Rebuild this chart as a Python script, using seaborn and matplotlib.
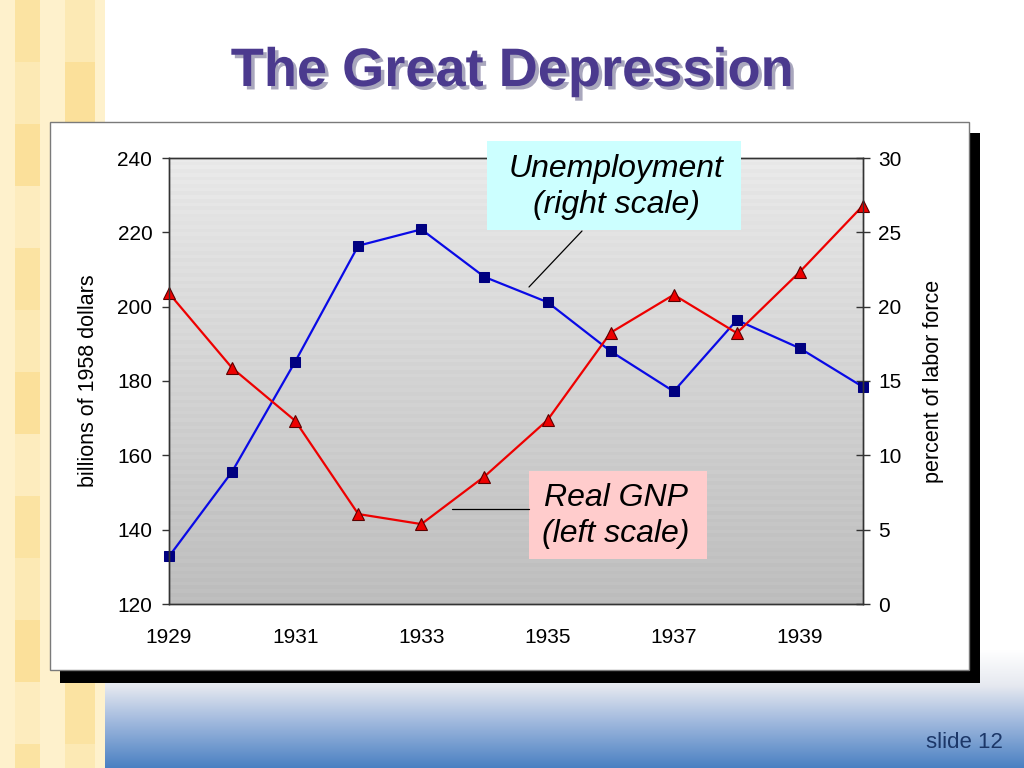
import numpy as np
import matplotlib
matplotlib.use('Agg')
import matplotlib.pyplot as plt
import matplotlib.patheffects as pe
from matplotlib.patches import Rectangle
from matplotlib.lines import Line2D
from matplotlib.colors import LinearSegmentedColormap
import seaborn as sns

# data
years = [1929, 1930, 1931, 1932, 1933, 1934, 1935, 1936, 1937, 1938, 1939, 1940]
real_gnp = [203.6, 183.5, 169.3, 144.2, 141.5, 154.3, 169.5, 193.0, 203.2, 192.9, 209.4, 227.2]
unemployment = [3.2, 8.9, 16.3, 24.1, 25.2, 22.0, 20.3, 17.0, 14.3, 19.1, 17.2, 14.6]
x_ticks = [1929, 1931, 1933, 1935, 1937, 1939]
left_ticks = [120, 140, 160, 180, 200, 220, 240]
right_ticks = [0, 5, 10, 15, 20, 25, 30]

W, H = 1024, 768


def fx(px):
    return px / W


def fy(py):
    return 1 - py / H


sns.set_style('white')
plt.rcParams['font.family'] = ['Liberation Sans', 'DejaVu Sans']
plt.rcParams['text.color'] = 'black'
plt.rcParams['axes.labelcolor'] = 'black'
plt.rcParams['xtick.color'] = 'black'
plt.rcParams['ytick.color'] = 'black'

fig = plt.figure(figsize=(10.24, 7.68), dpi=100)
fig.patch.set_facecolor('white')

# left yellow strip
fig.patches.append(Rectangle((0, 0), fx(105), 1, transform=fig.transFigure,
                             facecolor='#fef1cc', edgecolor='none', zorder=0.01))
shades = ['#fbe3a2', '#fce9b4', '#fbe09a', '#fdecbe']
for ci, (c0, c1) in enumerate([(15, 40), (65, 95)]):
    for r in range(13):
        col = shades[(r + ci) % len(shades)]
        fig.patches.append(Rectangle((fx(c0), fy((r + 1) * 62)), fx(c1 - c0), 62 / H,
                                     transform=fig.transFigure, facecolor=col,
                                     edgecolor='none', zorder=0.02))

# blue band at the bottom
band = fig.add_axes([fx(105), 0, 1 - fx(105), (768 - 650) / H], zorder=0.03)
band_cmap = LinearSegmentedColormap.from_list(
    'band', [(0, '#ffffff'), (0.3, '#e6e9f0'), (0.6, '#a2bade'), (1, '#4a80c2')])
band.imshow(np.linspace(0, 1, 256).reshape(-1, 1), aspect='auto', cmap=band_cmap,
            extent=[0, 1, 0, 1])
band.axis('off')

# chart frame with black shadow
fig.patches.append(Rectangle((fx(60), fy(683)), fx(980 - 60), (683 - 133) / H,
                             transform=fig.transFigure, facecolor='black',
                             edgecolor='none', zorder=0.1))
fig.patches.append(Rectangle((fx(50), fy(670)), fx(969 - 50), (670 - 122) / H,
                             transform=fig.transFigure, facecolor='white',
                             edgecolor='#7a7a7a', linewidth=1, zorder=0.2))

# title with a soft shadow
fig.text(fx(512), fy(72), 'The Great Depression', ha='center', va='center',
         fontsize=39, fontweight='bold', color='#4b3a8e', zorder=0.35,
         path_effects=[pe.withSimplePatchShadow(offset=(2.5, -2.5),
                                                shadow_rgbFace='#a9a7bd', alpha=1)])
fig.text(fx(1003), fy(743), 'slide 12', ha='right', va='center', fontsize=16,
         color='#1c3768', zorder=0.35)

pos = [fx(169), fy(604), fx(863 - 169), (604 - 158) / H]

# gradient plot background with faint stripes
bg = fig.add_axes(pos, zorder=0.5)
grad = np.linspace(0.905, 0.735, 120)
grad[::2] += 0.012
bg.imshow(grad.reshape(-1, 1), aspect='auto', cmap='gray', vmin=0, vmax=1,
          extent=[0, 1, 0, 1])
bg.axis('off')

ax = fig.add_axes(pos, zorder=2)
ax2 = ax.twinx()
ax2.set_zorder(1)
ax.patch.set_visible(False)
ax2.patch.set_visible(False)

sns.lineplot(x=years, y=unemployment, ax=ax2, color='#0a0ae6', linewidth=1.6,
             marker='s', markersize=7, markerfacecolor='#000080',
             markeredgecolor='#000080', estimator=None, clip_on=False)
sns.lineplot(x=years, y=real_gnp, ax=ax, color='#ee0000', linewidth=1.6,
             marker='^', markersize=9, markerfacecolor='#ee0000',
             markeredgecolor='#5a0000', markeredgewidth=0.8, estimator=None,
             clip_on=False)

ax.set_xlim(1929, 1940)
ax.set_ylim(120, 240)
ax2.set_ylim(0, 30)
ax.set_xticks(x_ticks)
ax.set_xticklabels([str(t) for t in x_ticks])
ax.set_yticks(left_ticks)
ax2.set_yticks(right_ticks)

ax.tick_params(axis='x', direction='in', length=5, width=1, pad=17,
               labelsize=15, color='#333333')
ax.tick_params(axis='y', direction='out', length=5, width=1, pad=7,
               labelsize=15, color='#333333', left=True)
ax2.tick_params(axis='y', direction='inout', length=10, width=1, pad=6,
                labelsize=15, color='#333333', right=True)

for a in (ax, ax2):
    for side, sp in a.spines.items():
        sp.set_visible(True)
        sp.set_color('#333333')
        sp.set_linewidth(1)

ax.set_ylabel('billions of 1958 dollars', fontsize=15.5)
ax.yaxis.set_label_coords((99 - 169) / 694, 0.5)
ax2.set_ylabel('percent of labor force', fontsize=15.5, rotation=90)
ax2.yaxis.set_label_coords((923 - 169) / 694, 0.5)

# annotation boxes and leader lines
fig.patches.append(Rectangle((fx(487), fy(230)), fx(741 - 487), (230 - 141) / H,
                             transform=fig.transFigure, facecolor='#ccffff',
                             edgecolor='none', zorder=5))
fig.text(fx(616), fy(187), 'Unemployment\n(right scale)', ha='center', va='center',
         fontsize=23, style='italic', linespacing=1.25, zorder=6)
fig.patches.append(Rectangle((fx(529), fy(559)), fx(707 - 529), (559 - 471) / H,
                             transform=fig.transFigure, facecolor='#ffcccc',
                             edgecolor='none', zorder=5))
fig.text(fx(616), fy(516), 'Real GNP\n(left scale)', ha='center', va='center',
         fontsize=23, style='italic', linespacing=1.25, zorder=6)
fig.lines.append(Line2D([fx(582), fx(529)], [fy(231), fy(287)],
                        transform=fig.transFigure, color='black', linewidth=0.9,
                        zorder=6))
fig.lines.append(Line2D([fx(452), fx(529)], [fy(509), fy(509)],
                        transform=fig.transFigure, color='black', linewidth=0.9,
                        zorder=6))

fig.savefig('out.png', dpi=100)
